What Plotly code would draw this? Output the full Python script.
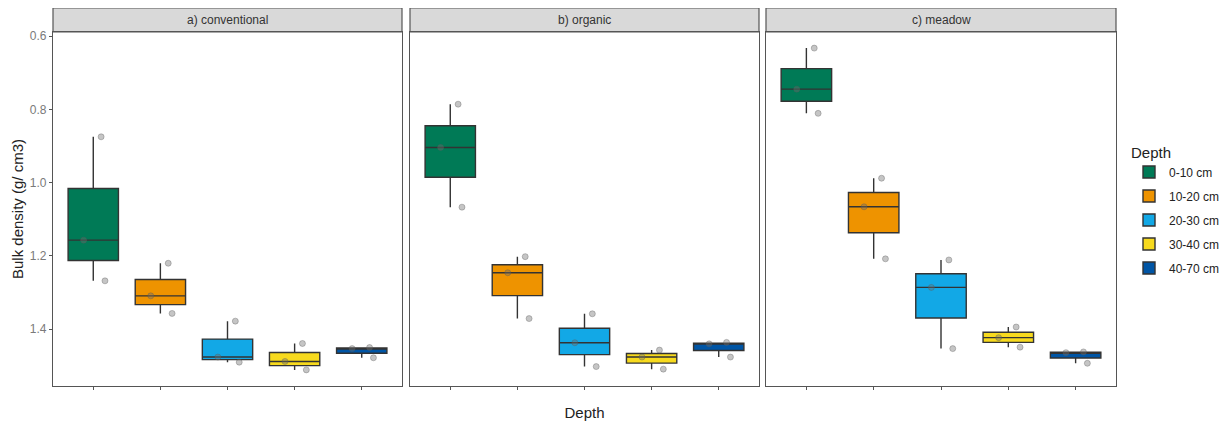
import plotly.graph_objects as go

depths = ["0-10 cm", "10-20 cm", "20-30 cm", "30-40 cm", "40-70 cm"]
colors = ["#007A56", "#EE9300", "#12A8E6", "#F7DA1E", "#0055A5"]
panels = ["a) conventional", "b) organic", "c) meadow"]

conventional = {
    "0-10 cm": [0.875, 1.157, 1.268],
    "10-20 cm": [1.220, 1.309, 1.357],
    "20-30 cm": [1.378, 1.476, 1.490],
    "30-40 cm": [1.439, 1.488, 1.511],
    "40-70 cm": [1.450, 1.453, 1.478],
}
organic = {
    "0-10 cm": [0.786, 0.904, 1.067],
    "10-20 cm": [1.202, 1.246, 1.371],
    "20-30 cm": [1.358, 1.437, 1.502],
    "30-40 cm": [1.457, 1.476, 1.509],
    "40-70 cm": [1.436, 1.440, 1.476],
}
meadow = {
    "0-10 cm": [0.633, 0.745, 0.811],
    "10-20 cm": [0.988, 1.066, 1.208],
    "20-30 cm": [1.211, 1.286, 1.453],
    "30-40 cm": [1.394, 1.423, 1.449],
    "40-70 cm": [1.462, 1.464, 1.493],
}
panel_data = [conventional, organic, meadow]

y_ticks = [0.6, 0.8, 1.0, 1.2, 1.4]

W, H = 1219, 419
L, R, T, B = 45, 111, 24, 41
pw = W - L - R
ph = H - T - B
doms = [(0, 349 / pw), (357 / pw, 706 / pw), (713 / pw, 1.0)]

fig = go.Figure()
for p, data in enumerate(panel_data):
    xa = "x" if p == 0 else f"x{p+1}"
    ya = "y" if p == 0 else f"y{p+1}"
    for d, c in zip(depths, colors):
        vals = data[d]
        fig.add_trace(go.Box(
            x=[d] * len(vals), y=vals, name=d,
            xaxis=xa, yaxis=ya,
            fillcolor=c, line=dict(color="#333333", width=1.4),
            boxpoints="all", jitter=0.6, pointpos=0,
            quartilemethod="inclusive",
            marker=dict(color="rgba(110,110,110,0.4)", size=6,
                        line=dict(color="rgba(90,90,90,0.35)", width=1)),
            whiskerwidth=0, width=0.75,
            legendgroup=d, showlegend=(p == 0),
            hoverinfo="y",
        ))

layout = dict(
    width=W, height=H,
    margin=dict(l=L, r=R, t=T, b=B, pad=0, autoexpand=False),
    plot_bgcolor="white", paper_bgcolor="white",
    font=dict(family="Liberation Sans, Arial, sans-serif", size=12, color="#333333"),
    boxmode="overlay",
    legend=dict(
        title=dict(text="Depth", font=dict(size=15, color="#222222")),
        xref="container", yref="container",
        x=1121 / W, y=1 - 130 / H, xanchor="left", yanchor="top",
        font=dict(size=12, color="#222222"),
        tracegroupgap=5, itemwidth=30,
        bgcolor="rgba(0,0,0,0)",
    ),
    shapes=[],
    annotations=[],
)

for p in range(3):
    xk = "xaxis" if p == 0 else f"xaxis{p+1}"
    yk = "yaxis" if p == 0 else f"yaxis{p+1}"
    layout[xk] = dict(
        domain=list(doms[p]), type="category",
        categoryorder="array", categoryarray=depths,
        range=[-0.6, 4.6], showticklabels=False,
        ticks="outside", ticklen=3, tickcolor="#555555",
        showline=True, linecolor="#555555", linewidth=1.2, mirror=True,
        showgrid=False, zeroline=False, fixedrange=True, automargin=False,
        anchor="y" if p == 0 else f"y{p+1}",
    )
    layout[yk] = dict(
        domain=[0, 1], range=[1.555, 0.589],
        tickvals=y_ticks, ticktext=[f"{v:.1f}" for v in y_ticks],
        showticklabels=(p == 0),
        ticks="outside" if p == 0 else "", ticklen=3, tickcolor="#555555",
        tickfont=dict(size=12, color="#7a7a7a"),
        showline=True, linecolor="#555555", linewidth=1.2, mirror=True,
        showgrid=False, zeroline=False, automargin=False,
        anchor="x" if p == 0 else f"x{p+1}",
    )
    if p > 0:
        layout[yk]["matches"] = "y"
    xref = "x domain" if p == 0 else f"x{p+1} domain"
    yref = "y domain" if p == 0 else f"y{p+1} domain"
    layout["shapes"].append(dict(
        type="rect", xref=xref, yref=yref,
        x0=0, x1=1, y0=1, y1=1 + 24 / ph,
        fillcolor="#D9D9D9", line=dict(color="#555555", width=1.2),
        layer="below",
    ))
    layout["annotations"].append(dict(
        text=panels[p], xref=xref, yref=yref, x=0.5, y=1 + 12 / ph,
        xanchor="center", yanchor="middle", showarrow=False,
        font=dict(size=12, color="#333333"),
    ))

layout["yaxis"]["title"] = dict(text="Bulk density (g/ cm3)", font=dict(size=15, color="#222222"), standoff=2)
layout["xaxis2"]["title"] = dict(text="Depth", font=dict(size=15, color="#222222"), standoff=18)

fig.update_layout(**layout)
fig.write_html("out.html")
